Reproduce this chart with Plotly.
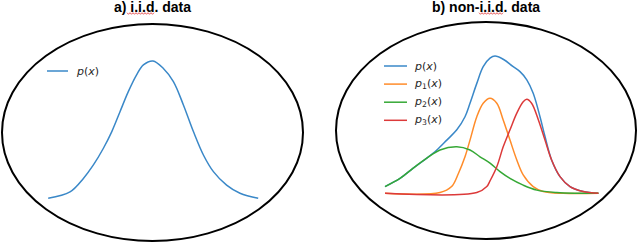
import plotly.graph_objects as go

W, H = 640, 243

# ---------------- data ----------------
# a) i.i.d. data : single density p(x)
iid_x = [-2.62, -2.075, -1.74, -1.49, -1.24, -1.03, -0.825, -0.62, -0.41, -0.24, 0.0,
         0.26, 0.51, 0.76, 1.01, 1.26, 1.51, 1.84, 2.175, 2.63]
iid_p = [0.012, 0.030, 0.068, 0.106, 0.153, 0.200, 0.256, 0.312, 0.360, 0.388, 0.399,
         0.378, 0.341, 0.275, 0.200, 0.134, 0.087, 0.049, 0.026, 0.012]

# b) non-i.i.d. data : mixture p(x) and components p1, p2, p3
mix_x = [-2.625, -2.25, -1.92, -1.58, -1.33, -1.08, -0.83, -0.625, -0.5, -0.33, -0.17, 0.0,
         0.125, 0.33, 0.58, 0.75, 0.92, 1.08, 1.25, 1.375, 1.54, 1.75, 2.0, 2.33, 2.71]
mix_p = [0.019, 0.042, 0.071, 0.099, 0.122, 0.150, 0.179, 0.216, 0.254, 0.310, 0.357, 0.381,
         0.387, 0.378, 0.357, 0.343, 0.320, 0.282, 0.216, 0.160, 0.094, 0.047, 0.019, 0.005, 0.0]

p1_x = [-2.625, -1.25, -0.96, -0.79, -0.625, -0.5, -0.33, -0.17, 0.0, 0.17, 0.33, 0.5,
        0.67, 0.83, 1.08, 1.33, 1.83, 2.71]
p1_p = [0.0, 0.002, 0.019, 0.056, 0.103, 0.150, 0.216, 0.254, 0.268, 0.254, 0.207, 0.150,
        0.094, 0.052, 0.019, 0.005, 0.0, 0.0]

p2_x = [-2.625, -2.25, -1.92, -1.58, -1.25, -0.83, -0.5, -0.25, 0.0, 0.25, 0.5, 0.83,
        1.17, 1.67, 2.17, 2.71]
p2_p = [0.019, 0.042, 0.071, 0.099, 0.122, 0.131, 0.122, 0.103, 0.085, 0.061, 0.042, 0.023,
        0.009, 0.002, 0.0, 0.0]

p3_x = [-2.625, -0.33, -0.08, 0.0, 0.17, 0.33, 0.5, 0.67, 0.83, 0.92, 1.04, 1.21, 1.375,
        1.54, 1.75, 2.0, 2.33, 2.71]
p3_p = [0.0, 0.002, 0.019, 0.035, 0.075, 0.131, 0.179, 0.226, 0.258, 0.265, 0.254, 0.207,
        0.150, 0.094, 0.047, 0.019, 0.005, 0.0]

titles = ["a) i.i.d. data", "b) non-i.i.d. data"]
left_labels = ["<i>p</i>(<i>x</i>)"]
right_labels = ["<i>p</i>(<i>x</i>)", "<i>p</i><sub>1</sub>(<i>x</i>)",
                "<i>p</i><sub>2</sub>(<i>x</i>)", "<i>p</i><sub>3</sub>(<i>x</i>)"]

BLUE, ORANGE, GREEN, RED = "#3a88c8", "#ff8c2a", "#35a835", "#dc3a3a"
right_colors = [BLUE, ORANGE, GREEN, RED]

# ---------------- figure ----------------
def px(xp):
    return xp / W

def py(yp):
    return 1 - yp / H

fig = go.Figure()
lw = 1.5
fig.add_trace(go.Scatter(x=iid_x, y=iid_p, mode="lines", line=dict(color=BLUE, width=lw, shape="spline"),
                         xaxis="x", yaxis="y", showlegend=False, hoverinfo="skip"))
for xs, ys, c in [(mix_x, mix_p, BLUE), (p1_x, p1_p, ORANGE), (p2_x, p2_p, GREEN), (p3_x, p3_p, RED)]:
    fig.add_trace(go.Scatter(x=xs, y=ys, mode="lines", line=dict(color=c, width=lw, shape="spline"),
                             xaxis="x2", yaxis="y2", showlegend=False, hoverinfo="skip"))

shapes = []
# ellipses
shapes.append(dict(type="circle", xref="paper", yref="paper", x0=px(2), x1=px(303),
                   y0=py(241), y1=py(24), line=dict(color="black", width=2), layer="below"))
shapes.append(dict(type="circle", xref="paper", yref="paper", x0=px(336), x1=px(636),
                   y0=py(239), y1=py(22), line=dict(color="black", width=2), layer="below"))

# spell-check squiggles under "i.i.d"
def squiggle(x0, x1, y):
    pts = []
    x = x0
    k = 0
    while x <= x1:
        yy = y + (0.8 if k % 2 else -0.8)
        pts.append((px(x), py(yy)))
        x += 1.5
        k += 1
    return "M " + " L ".join(f"{a:.5f},{b:.5f}" for a, b in pts)

shapes.append(dict(type="path", xref="paper", yref="paper", path=squiggle(127, 154, 13.5),
                   line=dict(color="#e03030", width=0.8)))
shapes.append(dict(type="path", xref="paper", yref="paper", path=squiggle(479, 503, 13.5),
                   line=dict(color="#e03030", width=0.8)))

annotations = []
# titles
for t, cx in zip(titles, [152, 486]):
    annotations.append(dict(text=f"<b>{t}</b>", xref="paper", yref="paper", x=px(cx), y=py(6.5),
                            xanchor="center", yanchor="middle", showarrow=False,
                            font=dict(family="Liberation Sans, Arial", size=14, color="black")))

legend_font = dict(family="DejaVu Sans", size=11, color="#262626")
# left legend
shapes.append(dict(type="line", xref="paper", yref="paper", x0=px(47), x1=px(68), y0=py(71), y1=py(71),
                   line=dict(color=BLUE, width=lw)))
annotations.append(dict(text=left_labels[0], xref="paper", yref="paper", x=px(74), y=py(71),
                        xanchor="left", yanchor="middle", showarrow=False, font=legend_font))
# right legend
for i, (lab, c) in enumerate(zip(right_labels, right_colors)):
    yy = 66 + 18.1 * i
    shapes.append(dict(type="line", xref="paper", yref="paper", x0=px(384), x1=px(407), y0=py(yy), y1=py(yy),
                       line=dict(color=c, width=lw)))
    annotations.append(dict(text=lab, xref="paper", yref="paper", x=px(412), y=py(yy),
                            xanchor="left", yanchor="middle", showarrow=False, font=legend_font))

ax = dict(visible=False, showgrid=False, zeroline=False, fixedrange=True)
fig.update_layout(
    width=W, height=H, margin=dict(l=0, r=0, t=0, b=0),
    paper_bgcolor="white", plot_bgcolor="rgba(0,0,0,0)",
    xaxis=dict(ax, domain=[0, 0.5], range=[-153 / 40, (320 - 153) / 40]),
    yaxis=dict(ax, domain=[0, 1], range=[(202.5 - 243) / 354.6, 202.5 / 354.6], anchor="x"),
    xaxis2=dict(ax, domain=[0.5, 1], range=[(320 - 490) / 40, (640 - 490) / 40], anchor="y2"),
    yaxis2=dict(ax, domain=[0, 1], range=[(193.3 - 243) / 354.6, 193.3 / 354.6], anchor="x2"),
    shapes=shapes, annotations=annotations, showlegend=False,
)

fig.write_html("out.html", config={"displayModeBar": False},
               post_script="document.body.style.margin='0';document.body.style.overflow='hidden';")
